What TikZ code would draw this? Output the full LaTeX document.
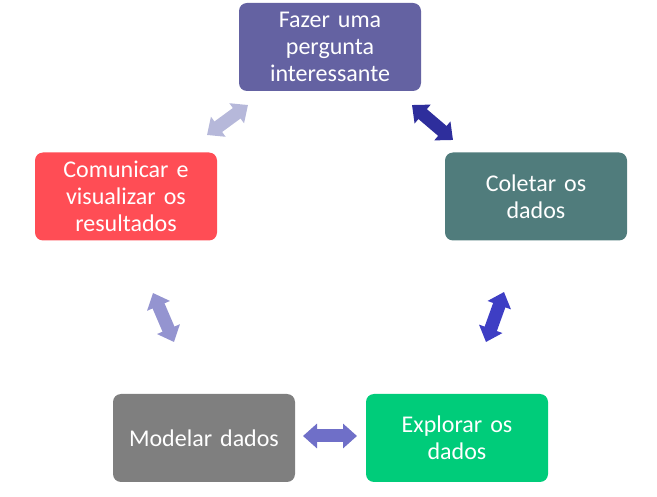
\documentclass[tikz,border=0pt]{standalone}
\usepackage{fontspec}
\setmainfont{Carlito}
\usetikzlibrary{arrows.meta}
\definecolor{cTop}{HTML}{6462A2}
\definecolor{cRight}{HTML}{507C7C}
\definecolor{cExpl}{HTML}{00CC7A}
\definecolor{cMod}{HTML}{7F7F7F}
\definecolor{cCom}{HTML}{FF4D55}
\definecolor{aA}{HTML}{B6B8DA}
\definecolor{aB}{HTML}{2E2E9C}
\definecolor{aC}{HTML}{3E3EC4}
\definecolor{aD}{HTML}{6F6FC8}
\definecolor{aE}{HTML}{9494D0}
\newcommand{\boxfont}{\fontsize{24}{27}\selectfont\fontdimen2\font=5.2pt\fontdimen3\font=0pt\fontdimen4\font=0pt}
\begin{document}
\begin{tikzpicture}[x=1pt,y=-1pt,
  stagebox/.style={rounded corners=8pt, minimum width=182pt, minimum height=88pt,
    text width=176pt, align=center, text=white, inner sep=0pt,
    font=\boxfont},
  blockarrow/.style={line width=13pt, draw=#1,
    {Triangle[width=24pt,length=14pt]}-{Triangle[width=24pt,length=14pt]}}
]
\useasboundingbox (0,0) rectangle (657,497);
\node[stagebox, fill=cTop] (top) at (330,47) {Fazer uma\\pergunta\\interessante};
\node[stagebox, fill=cRight] (col) at (536,196.5) {Coletar os\\dados};
\node[stagebox, fill=cExpl] (exp) at (457,438) {Explorar os\\dados};
\node[stagebox, fill=cMod] (mod) at (204,438) {Modelar dados};
\node[stagebox, fill=cCom] (com) at (126,196.5) {Comunicar e\\visualizar os\\resultados};
\coordinate (a1s) at (207,135); \coordinate (a1e) at (248,105);
\coordinate (a2s) at (412,105); \coordinate (a2e) at (453,140);
\coordinate (a3s) at (504,292); \coordinate (a3e) at (486,342);
\coordinate (a4s) at (303,436); \coordinate (a4e) at (357,436);
\coordinate (a5s) at (153,293); \coordinate (a5e) at (174,342);
\draw[blockarrow=aA] (a1s) -- (a1e);
\draw[blockarrow=aB] (a2s) -- (a2e);
\draw[blockarrow=aC] (a3s) -- (a3e);
\draw[blockarrow=aD] (a4s) -- (a4e);
\draw[blockarrow=aE] (a5s) -- (a5e);
\end{tikzpicture}
\end{document}
